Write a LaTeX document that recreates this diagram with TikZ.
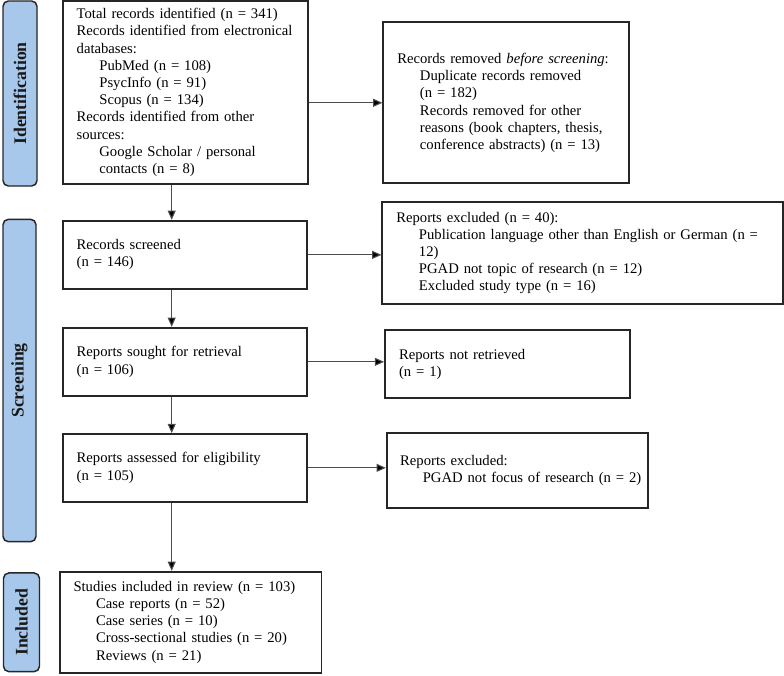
\documentclass[tikz,border=0pt]{standalone}
\usepackage{fontspec}
\setmainfont{Liberation Serif}
\usetikzlibrary{arrows.meta}

\definecolor{bandblau}{HTML}{A7C8EA}
\newcommand{\ein}{\hspace*{17pt}}

\tikzset{
  kasten/.style={draw=black!85, line width=1.3pt, fill=white, align=left,
    inner xsep=10.5pt, inner ysep=0pt, font=\fontsize{11}{12.9}\selectfont},
  band/.style={draw=black!85, line width=1.1pt, fill=bandblau, rotate=90,
    rounded corners=4pt, inner sep=0pt, text=black!90,
    font=\bfseries\fontsize{13.3}{15}\selectfont},
  pfeil/.style={draw=black!70, line width=0.8pt, -{Triangle[length=7pt,width=6pt,fill=black]}}
}

\begin{document}
\begin{tikzpicture}[x=0.75pt, y=-0.75pt]
  \useasboundingbox (0,0) rectangle (784,675);

  % Phasen links
  \node[band, minimum width=138.75pt, minimum height=25.5pt] (bandid) at (20,93.5) {Identification};
  \node[band, minimum width=241.8pt, minimum height=24.75pt] (bandscr) at (19.5,380.5) {Screening};
  \node[band, minimum width=74pt, minimum height=27pt] (bandinc) at (21.5,622.3) {Included};

  % Hauptspalte
  \node[kasten, text width=163pt, minimum height=137.25pt] (ident) at (185.35,92.5) {%
    Total records identified (n = 341)\\
    Records identified from electronical\\
    databases:\\
    \ein PubMed (n = 108)\\
    \ein PsycInfo (n = 91)\\
    \ein Scopus (n = 134)\\
    Records identified from other\\
    sources:\\
    \ein Google Scholar / personal\\
    \ein contacts (n = 8)};
  \node[kasten, text width=162.5pt, minimum height=51.2pt] (screened) at (185,254.85) {%
    Records screened\\
    (n = 146)};
  \node[kasten, text width=162.5pt, minimum height=51.2pt] (sought) at (185,361.85) {%
    Reports sought for retrieval\\
    (n = 106)};
  \node[kasten, text width=162.5pt, minimum height=50.8pt] (assessed) at (185,467.85) {%
    Reports assessed for eligibility\\
    (n = 105)};
  \node[kasten, text width=176pt, inner xsep=10pt, minimum height=75.75pt] (included) at (190.85,622.2) {%
    Studies included in review (n = 103)\\
    \ein Case reports (n = 52)\\
    \ein Case series (n = 10)\\
    \ein Cross-sectional studies (n = 20)\\
    \ein Reviews (n = 21)};

  % Ausschluesse rechts
  \node[kasten, text width=163.5pt, minimum height=120.75pt] (removed) at (506.3,102.8) {%
    Records removed \textit{before screening}:\\
    \ein Duplicate records removed\\
    \ein (n = 182)\\
    \ein Records removed for other\\
    \ein reasons (book chapters, thesis,\\
    \ein conference abstracts) (n = 13)};
  \node[kasten, text width=279.3pt, minimum height=77pt] (excl) at (582.5,253) {%
    Reports excluded (n = 40):\\
    \ein Publication language other than English or German (n =\\
    \ein 12)\\
    \ein PGAD not topic of research (n = 12)\\
    \ein Excluded study type (n = 16)};
  \node[kasten, text width=176pt, inner xsep=10.1pt, minimum height=56.25pt] (exclfin) at (517.5,470.8) {%
    Reports excluded:\\
    \mbox{\ein PGAD not focus of research (n = 2)}};
  \node[kasten, text width=162.75pt, minimum height=51.2pt] (notretr) at (507.5,364.15) {%
    Reports not retrieved\\
    (n = 1)};

  % Pfeile
  \coordinate (achse) at (171.7,0);
  \draw[pfeil] (ident.south -| achse) -- (screened.north -| achse);
  \draw[pfeil] (screened.south -| achse) -- (sought.north -| achse);
  \draw[pfeil] (sought.south -| achse) -- (assessed.north -| achse);
  \draw[pfeil] (assessed.south -| achse) -- (included.north -| achse);

  \draw[pfeil] (ident.east |- removed.west) -- (removed.west);
  \draw[pfeil] (screened.east) -- (screened.east -| excl.west);
  \draw[pfeil] (sought.east) -- (sought.east -| notretr.west);
  \draw[pfeil] (assessed.east) -- (assessed.east -| exclfin.west);

\end{tikzpicture}
\end{document}
